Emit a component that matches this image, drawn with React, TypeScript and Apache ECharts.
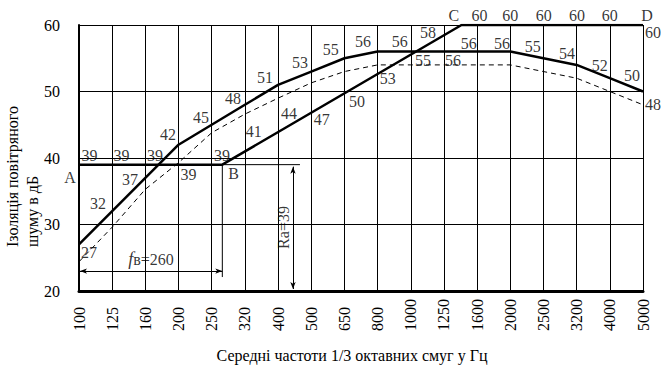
import React, { useEffect, useRef } from "react";
import * as echarts from "echarts";

// 1/3-octave band centre frequencies (Hz)
const frequencies = ["100", "125", "160", "200", "250", "320", "400", "500", "650", "800", "1000", "1250", "1600", "2000", "2500", "3200", "4000", "5000"];
// Measured airborne sound insulation (dB) – thick solid curve
const measured = [27, 32, 37, 42, 45, 48, 51, 53, 55, 56, 56, 56, 56, 56, 55, 54, 52, 50];
// Shifted curve (dB) – dashed
const shifted = [24.4, 29.6, 35.3, 39.3, 43.8, 46.6, 49, 51.3, 53, 54, 54, 54, 54, 54, 53, 52, 50, 48];
// Normative ABCD curve: [band index, dB]
const curveABCD = [[0, 39], [4.32, 39], [11.53, 60], [17, 60]];
const raLevel = 39;
const fbIndex = 4.32; // fв = 260 Hz
const raExtentIndex = 6.66;
const raArrowIndex = 6.45;
const fbArrowLevel = 23;
const fbDropLevel = 22.1;

// Text annotations: [text, band index, dB]
const annotations: [string, number, number][] = [
  ["27", 0.3, 25.86], ["32", 0.57, 33.23], ["37", 1.54, 36.84], ["42", 2.68, 43.46],
  ["45", 3.68, 46.02], ["48", 4.64, 49.02], ["51", 5.61, 52.18], ["53", 6.66, 54.29],
  ["55", 7.59, 56.39], ["56", 8.56, 57.59], ["56", 9.67, 57.59], ["58", 10.52, 58.8],
  ["56", 11.75, 57.29], ["56", 12.75, 57.29], ["55", 13.68, 56.84], ["54", 14.71, 55.64],
  ["52", 15.7, 53.98], ["50", 16.67, 52.48], ["48", 17.3, 48.12], ["60", 17.3, 58.8],
  ["D", 17.12, 61.4], ["C", 11.3, 61.4],
  ["60", 12.07, 61.5], ["60", 13.0, 61.5], ["60", 14.01, 61.5], ["60", 15.01, 61.5], ["60", 16.0, 61.5],
  ["39", 0.32, 40.45], ["39", 1.28, 40.45], ["39", 2.29, 40.45], ["39", 4.31, 40.45],
  ["39", 3.3, 37.52],
  ["41", 5.27, 43.91], ["44", 6.33, 46.62], ["47", 7.32, 45.86], ["50", 8.38, 48.57],
  ["53", 9.31, 52.03], ["55", 10.37, 54.59], ["56", 11.27, 54.59],
  ["A", -0.27, 37.07], ["B", 4.66, 37.6],
];
const fbLabel: [string, number, number] = ["fв=260", 2.17, 24.81];
const raLabel: [string, number, number] = ["Ra=39", 6.16, 29.55];

const FONT = "Liberation Serif";

export default function App() {
  const ref = useRef<HTMLDivElement>(null);
  useEffect(() => {
    if (!ref.current) return;
    const chart = echarts.init(ref.current, undefined, { renderer: "svg" });
    const black = "#000";
    const lineBase = { type: "line", symbol: "none", silent: true, z: 3 };
    chart.setOption({
      animation: false,
      backgroundColor: "#fff",
      textStyle: { fontFamily: FONT },
      grid: { left: 79, right: 24, top: 25, bottom: 78 },
      xAxis: {
        type: "value",
        min: 0,
        max: 17,
        interval: 1,
        axisLine: { show: true, onZero: false, lineStyle: { color: black, width: 3 } },
        axisTick: { show: false },
        axisLabel: {
          formatter: (v: number) => frequencies[v] ?? "",
          rotate: 90,
          align: "left",
          verticalAlign: "middle",
          margin: 40,
          fontSize: 16,
          color: black,
          fontFamily: FONT,
        },
        splitLine: { show: true, lineStyle: { color: black, width: 1 } },
      },
      yAxis: {
        type: "value",
        min: 20,
        max: 60,
        interval: 10,
        axisLine: { show: true, onZero: false, lineStyle: { color: black, width: 2 } },
        axisTick: { show: false },
        axisLabel: { margin: 19, fontSize: 16, color: black, fontFamily: FONT },
        splitLine: { show: true, lineStyle: { color: black, width: 1 } },
      },
      graphic: [
        {
          type: "text",
          x: 22,
          y: 247,
          rotation: Math.PI / 2,
          style: {
            text: "Ізоляція повітряного\nшуму в дБ",
            fontSize: 16,
            fontFamily: FONT,
            fill: black,
            align: "left",
            verticalAlign: "middle",
            lineHeight: 20,
          },
        },
        {
          type: "text",
          x: 352,
          y: 355,
          style: {
            text: "Середні частоти 1/3 октавних смуг у Гц",
            fontSize: 16,
            fontFamily: FONT,
            fill: black,
            align: "center",
            verticalAlign: "middle",
          },
        },
      ],
      series: [
        {
          ...lineBase,
          name: "shifted",
          data: shifted.map((v, i) => [i, v]),
          lineStyle: { color: black, width: 1, type: [5, 4] },
        },
        {
          ...lineBase,
          name: "measured",
          data: measured.map((v, i) => [i, v]),
          lineStyle: { color: black, width: 2.5 },
        },
        {
          ...lineBase,
          name: "ABCD",
          data: curveABCD,
          lineStyle: { color: black, width: 2.5 },
        },
        {
          ...lineBase,
          name: "ra-line",
          data: [[fbIndex, raLevel], [raExtentIndex, raLevel]],
          lineStyle: { color: black, width: 1 },
        },
        {
          ...lineBase,
          name: "fb-drop",
          data: [[fbIndex, raLevel], [fbIndex, fbDropLevel]],
          lineStyle: { color: black, width: 1 },
          markLine: {
            silent: true,
            symbol: ["arrow", "arrow"],
            symbolSize: [4, 7],
            label: { show: false },
            lineStyle: { color: black, width: 1, type: "solid" },
            data: [
              [{ coord: [0.03, fbArrowLevel] }, { coord: [fbIndex, fbArrowLevel] }],
              [{ coord: [raArrowIndex, raLevel - 0.3] }, { coord: [raArrowIndex, 20.3] }],
            ],
          },
        },
        {
          type: "scatter",
          name: "labels",
          silent: true,
          clip: false,
          symbolSize: 0,
          z: 5,
          data: [
            ...annotations.map(([t, x, y]) => ({ value: [x, y], name: t })),
            {
              value: [fbLabel[1], fbLabel[2]],
              name: fbLabel[0],
              label: {
                formatter: "{i|f}{n|в=260}",
                rich: {
                  i: { fontStyle: "italic", fontSize: 18, fontFamily: FONT, color: black },
                  n: { fontSize: 16, fontFamily: FONT, color: black },
                },
              },
            },
            {
              value: [raLabel[1], raLabel[2]],
              name: raLabel[0],
              label: { rotate: 90 },
            },
          ],
          label: {
            show: true,
            position: "inside",
            formatter: "{b}",
            fontSize: 16,
            fontFamily: FONT,
            color: black,
          },
        },
      ],
    });
    return () => chart.dispose();
  }, []);
  return (
    <div
      ref={ref}
      style={{ position: "fixed", left: 0, top: 0, width: 667, height: 369, background: "#fff" }}
    />
  );
}
